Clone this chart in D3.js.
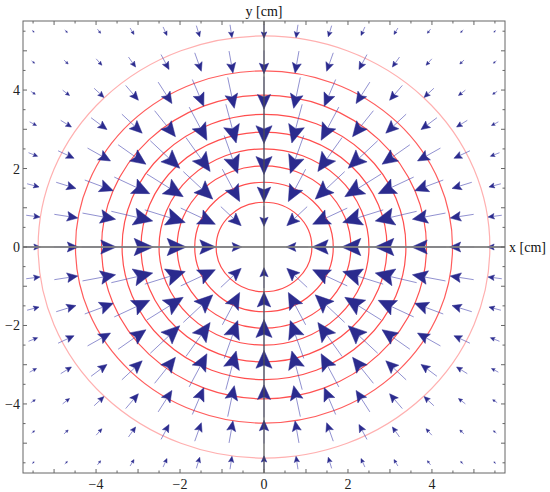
<!DOCTYPE html>
<html>
<head>
<meta charset="utf-8">
<script src="https://cdn.jsdelivr.net/npm/d3@7"></script>
<style>
  html, body { margin: 0; padding: 0; background: #fff; }
  svg { display: block; }
  text { font-family: "Liberation Serif", "Times New Roman", "DejaVu Serif", serif; }
</style>
</head>
<body>
<svg id="chart" width="550" height="492"></svg>
<script>
// ---- data ----
const gridX = [-5.5, -4.714, -3.929, -3.143, -2.357, -1.571, -0.786, 0, 0.786, 1.571, 2.357, 3.143, 3.929, 4.714, 5.5];
const gridY = [-5.5, -4.714, -3.929, -3.143, -2.357, -1.571, -0.786, 0, 0.786, 1.571, 2.357, 3.143, 3.929, 4.714, 5.5];
// field strength, one quadrant (row = |y index|, col = |x index|)
const strength0 = [0, 22, 36, 43, 43, 35, 25, 15];
const strength1 = [22, 29, 39, 43, 43, 34, 24, 14];
const strength2 = [36, 39, 42, 44, 40, 31, 21, 12.5];
const strength3 = [43, 43, 44, 42, 35, 27, 18, 10];
const strength4 = [43, 43, 40, 35, 29, 20.5, 13, 8];
const strength5 = [35, 34, 31, 27, 20.5, 14, 9, 5.5];
const strength6 = [25, 24, 21, 18, 13, 9, 6, 4];
const strength7 = [15, 14, 12.5, 10, 8, 5.5, 4, 3];
const contourRadii = [1.14, 1.65, 2.07, 2.50, 2.93, 3.38, 3.87, 4.49, 5.38];
const contourColors = ["#ff4d4d", "#ff4d4d", "#ff4d4d", "#ff4d4d", "#ff4d4d", "#ff4d4d", "#ff5252", "#ff5c5c", "#ffb0b0"];
const xTickLabels = [-4, -2, 0, 2, 4];
const yTickLabels = [-4, -2, 0, 2, 4];
const xAxisLabel = "x [cm]";
const yAxisLabel = "y [cm]";

const strengthTable = [strength0, strength1, strength2, strength3, strength4, strength5, strength6, strength7];

// ---- layout ----
const fLeft = 23, fRight = 505, fTop = 21, fBottom = 473;
const x = d3.scaleLinear().domain([-5.74, 5.74]).range([fLeft, fRight]);
const y = d3.scaleLinear().domain([-5.76, 5.76]).range([fBottom, fTop]);
const lenScale = d3.scaleLinear().domain([0, 44]).range([0, 1.04]);

const svg = d3.select("#chart");

// contours
svg.append("g").selectAll("ellipse").data(contourRadii).join("ellipse")
  .attr("cx", x(0)).attr("cy", y(0))
  .attr("rx", d => x(d) - x(0))
  .attr("ry", d => y(0) - y(d))
  .attr("fill", "none")
  .attr("stroke", (d, i) => contourColors[i])
  .attr("stroke-width", 1.2);

// arrows
const arrows = [];
gridY.forEach((gy, r) => {
  gridX.forEach((gx, c) => {
    const ci = Math.abs(c - 7), ri = Math.abs(r - 7);
    const s = strengthTable[ri][ci];
    const rad = Math.hypot(gx, gy);
    if (s <= 0 || rad === 0) return;
    arrows.push({gx, gy, s, ux: -gx / rad, uy: -gy / rad});
  });
});

const ag = svg.append("g");
arrows.forEach(a => {
  const L = lenScale(a.s);
  const x0 = x(a.gx - a.ux * L / 2), y0 = y(a.gy - a.uy * L / 2);
  const x1 = x(a.gx + a.ux * L / 2), y1 = y(a.gy + a.uy * L / 2);
  const dx = x1 - x0, dy = y1 - y0;
  const Lp = Math.hypot(dx, dy);
  const ex = dx / Lp, ey = dy / Lp;
  const h = 0.45 * Lp, w = 0.45 * h;
  const bx = x1 - ex * h, by = y1 - ey * h;
  const nx = x1 - ex * h * 0.82, ny = y1 - ey * h * 0.82;
  ag.append("line")
    .attr("x1", x0).attr("y1", y0).attr("x2", nx).attr("y2", ny)
    .attr("stroke", "#4848b0").attr("stroke-opacity", 0.6).attr("stroke-width", 1);
  ag.append("path")
    .attr("d", `M${x1},${y1}L${bx - ey * w},${by + ex * w}L${nx},${ny}L${bx + ey * w},${by - ex * w}Z`)
    .attr("fill", "#2b2b8e").attr("stroke", "#2b2b8e").attr("stroke-width", 0.5);
});

// axes through origin
svg.append("line").attr("x1", fLeft).attr("x2", fRight).attr("y1", y(0)).attr("y2", y(0))
  .attr("stroke", "#808080").attr("stroke-width", 1.8).attr("stroke-opacity", 0.9);
svg.append("line").attr("x1", x(0)).attr("x2", x(0)).attr("y1", fTop).attr("y2", fBottom)
  .attr("stroke", "#505050").attr("stroke-width", 1.3).attr("stroke-opacity", 0.9);

// frame
svg.append("rect").attr("x", fLeft).attr("y", fTop).attr("width", fRight - fLeft).attr("height", fBottom - fTop)
  .attr("fill", "none").attr("stroke", "#666").attr("stroke-width", 1);

// ticks (inward), minor every 0.5, major at integers
const tickVals = d3.range(-5.5, 5.51, 0.5);
const tg = svg.append("g").attr("stroke", "#666").attr("stroke-width", 1);
tickVals.forEach(v => {
  const major = Number.isInteger(v);
  const len = major ? 4 : 2.5;
  tg.append("line").attr("x1", x(v)).attr("x2", x(v)).attr("y1", fBottom).attr("y2", fBottom - len);
  tg.append("line").attr("x1", x(v)).attr("x2", x(v)).attr("y1", fTop).attr("y2", fTop + len);
  tg.append("line").attr("y1", y(v)).attr("y2", y(v)).attr("x1", fLeft).attr("x2", fLeft + len);
  tg.append("line").attr("y1", y(v)).attr("y2", y(v)).attr("x1", fRight).attr("x2", fRight - len);
});

const fmt = v => v < 0 ? "\u2212" + Math.abs(v) : String(v);
svg.append("g").selectAll("text").data(xTickLabels).join("text")
  .attr("x", d => x(d)).attr("y", 489).attr("text-anchor", "middle")
  .attr("font-size", 14).attr("fill", "#222").text(fmt);
svg.append("g").selectAll("text").data(yTickLabels).join("text")
  .attr("x", 20).attr("y", d => y(d) + 5).attr("text-anchor", "end")
  .attr("font-size", 14).attr("fill", "#222").text(fmt);

svg.append("text").attr("x", x(0)).attr("y", 16).attr("text-anchor", "middle")
  .attr("font-size", 14).attr("fill", "#111").text(yAxisLabel);
svg.append("text").attr("x", 509).attr("y", y(0) + 5).attr("text-anchor", "start")
  .attr("font-size", 14).attr("fill", "#111").text(xAxisLabel);
</script>
</body>
</html>
